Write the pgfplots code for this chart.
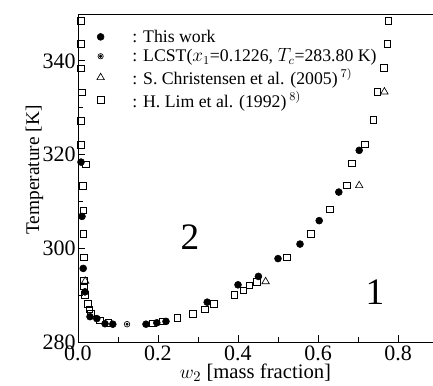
\documentclass[border=0pt]{standalone}
\usepackage{pgfplots}
\pgfplotsset{compat=1.18}
\usepackage{fontspec}
\setmainfont{Liberation Serif}
\begin{document}
\begin{tikzpicture}
\begin{axis}[
  scale only axis,
  width=266.25pt, height=246pt,
  xmin=0, xmax=0.8875, ymin=280, ymax=350,
  axis x line*=box, axis y line*=left,
  xtick={0,0.2,0.4,0.6,0.8}, minor xtick={0.1,0.3,0.5,0.7},
  ytick={280,300,320,340}, minor ytick={290,310,330},
  xtick pos=bottom, ytick pos=left,
  tick align=inside,
  major tick length=5pt, minor tick length=4pt,
  axis line style={line width=0.6pt},
  every tick/.style={line width=0.6pt, black},
  /pgf/number format/assume math mode=true,
  xticklabel={\pgfmathprintnumber[fixed,fixed zerofill,precision=1]{\tick}},
  tick label style={font=\fontsize{16.5}{18}\selectfont},
  xticklabel style={inner sep=1pt, yshift=-1.5pt},
  yticklabel style={inner sep=1.5pt},
  xlabel={$w_2$ [mass fraction]},
  ylabel={Temperature [K]},
  xlabel style={font=\fontsize{15.5}{17}\selectfont, inner sep=0.5pt, yshift=-1pt},
  ylabel style={font=\fontsize{14.5}{16}\selectfont, yshift=-5.5pt, xshift=6pt},
  legend style={draw=none, fill=none, inner sep=0pt, at={(rel axis cs:0.03,0.961)}, anchor=north west,
    font=\fontsize{13.3}{14}\selectfont, row sep=-0.5pt,
    /tikz/every odd column/.append style={column sep=13pt},
    cells={anchor=west}},
  legend cell align=left,
  legend image code/.code={\path (0cm,0cm) (0.6cm,0cm); \draw[#1] plot coordinates {(0.3cm,0cm)};},
]
\coordinate (bl) at (rel axis cs:0,0);
\coordinate (tr) at (rel axis cs:1,1);
\addplot[only marks, mark=*, mark size=2.6pt, black] coordinates {
(0.0075,318.4)(0.01,306.8)(0.013,295.7)(0.0175,290.7)(0.03,285.4)(0.047,285.0)
(0.0675,283.9)(0.087,283.8)(0.17,283.8)(0.197,284.1)(0.22,284.4)(0.323,288.5)
(0.40,292.2)(0.451,294.0)(0.50,297.8)(0.555,300.9)(0.603,305.9)(0.652,312.0)(0.703,320.9)
};
\addlegendentry{: This work}
\addplot[only marks, mark=o, mark size=2.1pt, black, line width=0.5pt,
  legend image code/.code={\path (0cm,0cm) (0.6cm,0cm); \draw[line width=0.5pt] (0.3cm,0cm) circle (2pt); \fill (0.3cm,0cm) circle (0.9pt);}]
  coordinates {(0.1226,283.80)};
\addlegendentry{: LCST($x_1$=0.1226, $T_c$=283.80 K)}
\addplot[only marks, mark=*, mark size=0.9pt, black, forget plot] coordinates {(0.1226,283.80)};
\addplot[only marks, mark=triangle, mark size=3.2pt, black, line width=0.5pt] coordinates {
(0.766,333.4)(0.703,313.4)(0.469,292.9)(0.018,293.0)
};
\addlegendentry{: S. Christensen et al. (2005)\,$^{7)}$}
\addplot[only marks, mark=square, mark size=2.5pt, black, line width=0.5pt] coordinates {
(0.0075,348.6)(0.0075,343.6)(0.0075,338.4)(0.01,333.3)(0.0075,327.2)(0.0075,322.1)
(0.02,317.9)(0.012,313.3)(0.013,308.1)(0.013,303.1)(0.015,298.1)(0.014,293.1)(0.015,291.9)
(0.017,290.1)(0.024,288.1)(0.028,287.0)(0.0325,286.1)(0.055,284.6)(0.076,284.1)
(0.187,284.0)(0.212,284.4)(0.248,285.1)(0.287,286.0)(0.317,287.0)(0.34,288.1)
(0.391,290.1)(0.413,291.0)(0.428,292.1)(0.447,292.9)(0.522,298.1)
(0.5825,303.1)(0.63,308.3)(0.672,313.4)(0.684,318.1)(0.7175,322.2)(0.738,327.4)
(0.748,333.4)(0.765,338.5)(0.773,343.6)(0.776,348.6)
};
\addlegendentry{: H. Lim et al. (1992)\,$^{8)}$}
\node[font=\fontsize{28}{30}\selectfont] at (axis cs:0.28,302.3) {2};
\node[font=\fontsize{28}{30}\selectfont] at (axis cs:0.7425,290.7) {1};
\end{axis}
\pgfresetboundingbox
\path ([shift={(-58.5pt,-33pt)}]bl) rectangle ([shift={(0pt,10.5pt)}]tr);
\end{tikzpicture}
\end{document}
